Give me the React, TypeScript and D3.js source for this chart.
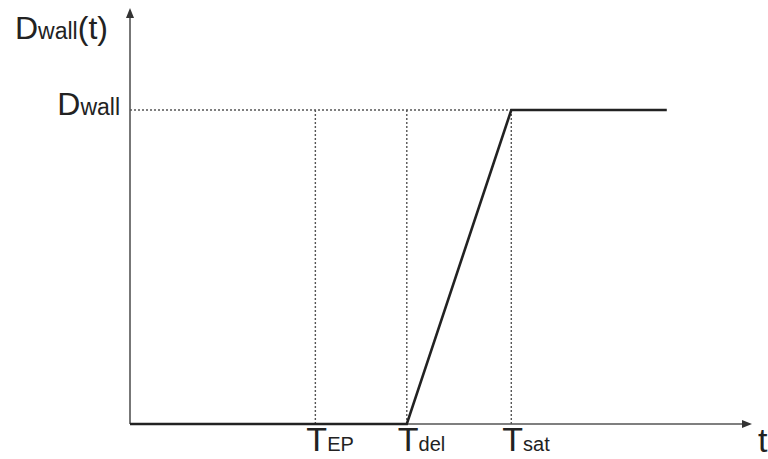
import React from 'react';
import { scaleLinear, line } from 'd3';

// time marks (arbitrary units)
const tickNames = ['EP', 'del', 'sat'];
const tickTimes = [29.8, 44.5, 61.3];
// D_wall(t): zero until Tdel, linear rise to Dwall at Tsat, then flat
const curveT = [0, 44.5, 61.3, 86.3];
const curveD = [0, 0, 1, 1];
const dWall = 1;

const W = 768;
const H = 459;

export default function App() {
  const x = scaleLinear().domain([0, 100]).range([130, 752]);
  const y = scaleLinear().domain([0, 1]).range([424, 110]);

  const pts: [number, number][] = curveT.map((t, i) => [t, curveD[i]]);
  const path = line<[number, number]>()
    .x(d => x(d[0]))
    .y(d => y(d[1]))(pts);

  const x0 = x(0);
  const y0 = y(0);
  const xEnd = x(100);
  const yTop = y(1.325);
  const font = '"Liberation Sans", Arial, sans-serif';

  return (
    <svg width={W} height={H} style={{ position: 'absolute', left: 0, top: 0, background: '#fff' }}>
      {/* axes */}
      <line x1={x0} y1={y0} x2={xEnd - 8} y2={y0} stroke="#555" strokeWidth={1.6} />
      <line x1={x0} y1={y0} x2={x0} y2={yTop + 8} stroke="#555" strokeWidth={1.6} />
      <path d={`M${xEnd},${y0} L${xEnd - 10},${y0 - 4} L${xEnd - 10},${y0 + 4} Z`} fill="#333" />
      <path d={`M${x0},${yTop} L${x0 - 4},${yTop + 10} L${x0 + 4},${yTop + 10} Z`} fill="#333" />

      {/* dotted guides */}
      <line x1={x0} y1={y(dWall)} x2={x(tickTimes[2])} y2={y(dWall)}
        stroke="#555" strokeWidth={1.4} strokeDasharray="2,2" />
      {tickTimes.map(t => (
        <line key={t} x1={x(t)} y1={y(dWall)} x2={x(t)} y2={y0}
          stroke="#555" strokeWidth={1.4} strokeDasharray="2,2" />
      ))}

      {/* the curve */}
      <path d={path ?? ''} fill="none" stroke="#222" strokeWidth={2.6} strokeLinejoin="miter" />

      {/* labels */}
      <text x={15} y={39} fontFamily={font} fill="#222">
        <tspan fontSize={32}>D</tspan>
        <tspan fontSize={23}>wall</tspan>
        <tspan fontSize={32}>(t)</tspan>
      </text>
      <text x={120} y={115} textAnchor="end" fontFamily={font} fill="#222">
        <tspan fontSize={32}>D</tspan>
        <tspan fontSize={23}>wall</tspan>
      </text>
      {tickTimes.map((t, i) => (
        <text key={t} x={x(t) - 9} y={451} fontFamily={font} fill="#222">
          <tspan fontSize={34}>T</tspan>
          <tspan fontSize={20}>{tickNames[i]}</tspan>
        </text>
      ))}
      <text x={758} y={452} fontFamily={font} fontSize={34} fill="#222">t</text>
    </svg>
  );
}
